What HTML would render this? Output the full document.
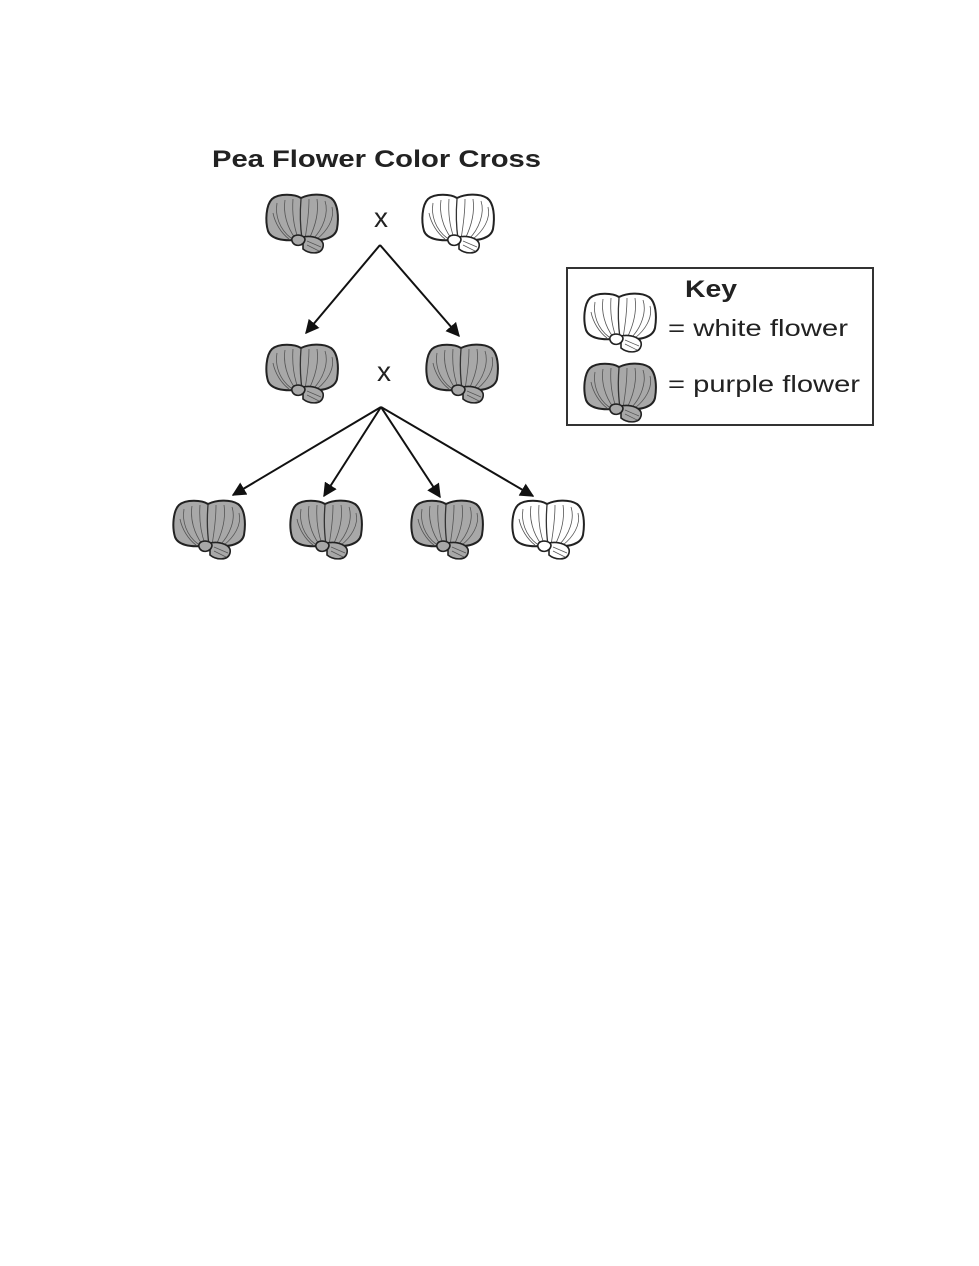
<!DOCTYPE html>
<html><head><style>
body{margin:0;background:#fff;}
svg{display:block}
</style></head><body>
<svg width="979" height="1266" viewBox="0 0 979 1266" xmlns="http://www.w3.org/2000/svg">
<defs>
<g id="fl">
 <path d="M36,5 C30,1 14,0 7,6 C1,12 0,28 3,38 C6,46 18,48 30,47 L46,47 C58,48 70,45 72,36 C74,24 73,10 66,5 C58,0 44,1 36,5 Z" stroke="#222" stroke-width="2"/>
 <path d="M36,6 C35,18 35,32 37,46" stroke="#333" stroke-width="1.3" fill="none"/>
 <g stroke="#555" stroke-width="0.8" fill="none">
  <path d="M12,10 C10,22 14,36 26,45"/><path d="M20,7 C18,20 22,34 30,45"/><path d="M28,6 C27,20 29,34 33,45"/>
  <path d="M8,20 C10,30 16,40 24,46"/><path d="M44,6 C44,20 42,34 40,46"/><path d="M52,6 C54,20 50,34 44,46"/>
  <path d="M60,8 C64,20 58,36 48,46"/><path d="M67,14 C70,26 62,38 52,46"/>
 </g>
 <path d="M38,44 C48,42 60,46 58,54 C56,62 44,61 38,56 Z" stroke="#222" stroke-width="1.6"/>
 <path d="M27,48 C25,41 38,40 40,46 C40,53 29,55 27,48 Z" stroke="#222" stroke-width="1.6"/>
 <path d="M42,48 L56,54 M42,52 L54,58" stroke="#555" stroke-width="0.7"/>
</g>
<marker id="ah" viewBox="0 0 10 10" refX="9" refY="5" markerWidth="7" markerHeight="7" orient="auto"><path d="M0,0 L10,5 L0,10 Z" fill="#111"/></marker>
</defs>
<text x="212" y="167" textLength="329" lengthAdjust="spacingAndGlyphs" font-family="Liberation Sans, sans-serif" font-weight="bold" font-size="24" fill="#222">Pea Flower Color Cross</text>

<use href="#fl" x="265" y="193" fill="#a8a8a8"/>
<use href="#fl" x="421" y="193" fill="#fff"/>
<text x="381" y="227" text-anchor="middle" font-family="Liberation Sans, sans-serif" font-size="28" fill="#222">x</text>

<use href="#fl" x="265" y="343" fill="#a8a8a8"/>
<use href="#fl" x="425" y="343" fill="#a8a8a8"/>
<text x="384" y="381" text-anchor="middle" font-family="Liberation Sans, sans-serif" font-size="28" fill="#222">x</text>

<g stroke="#111" stroke-width="2" marker-end="url(#ah)">
<line x1="380" y1="245" x2="306" y2="333"/>
<line x1="380" y1="245" x2="459" y2="336"/>
<line x1="381" y1="407" x2="233" y2="495"/>
<line x1="381" y1="407" x2="324" y2="496"/>
<line x1="381" y1="407" x2="440" y2="497"/>
<line x1="381" y1="407" x2="533" y2="496"/>
</g>

<use href="#fl" x="172" y="499" fill="#a8a8a8"/>
<use href="#fl" x="289" y="499" fill="#a8a8a8"/>
<use href="#fl" x="410" y="499" fill="#a8a8a8"/>
<use href="#fl" x="511" y="499" fill="#fff"/>

<rect x="567" y="268" width="306" height="157" fill="none" stroke="#333" stroke-width="2"/>
<text x="685" y="297" textLength="52" lengthAdjust="spacingAndGlyphs" font-family="Liberation Sans, sans-serif" font-weight="bold" font-size="24" fill="#222">Key</text>
<use href="#fl" x="583" y="292" fill="#fff"/>
<use href="#fl" x="583" y="362" fill="#a8a8a8"/>
<text x="668" y="336" textLength="180" lengthAdjust="spacingAndGlyphs" font-family="Liberation Sans, sans-serif" font-size="23" fill="#222">= white flower</text>
<text x="668" y="392" textLength="192" lengthAdjust="spacingAndGlyphs" font-family="Liberation Sans, sans-serif" font-size="23" fill="#222">= purple flower</text>
</svg>
</body></html>
